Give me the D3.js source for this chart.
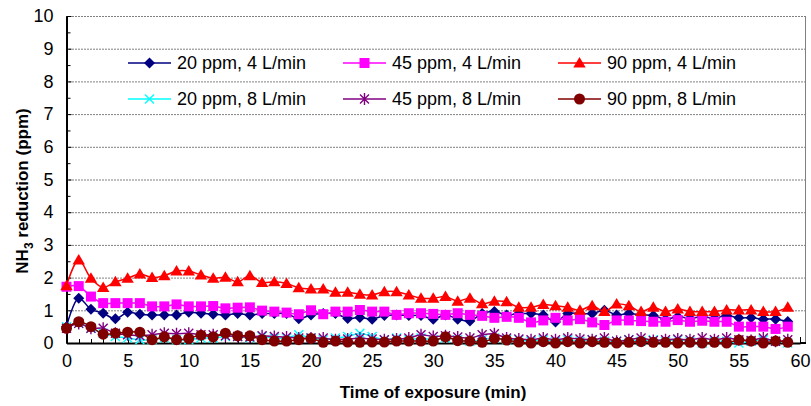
<!DOCTYPE html>
<html>
<head>
<meta charset="utf-8">
<script src="https://cdn.jsdelivr.net/npm/d3@7"></script>
<style>
  html, body { margin: 0; padding: 0; background: #fff; }
  svg { display: block; font-family: "Liberation Sans", Arial, Helvetica, sans-serif; }
</style>
</head>
<body>
<svg id="chart" width="811" height="406"></svg>
<script>
// Exposure time (min) for each reading
const times = [0, 1, 2, 3, 4, 5, 6, 7, 8, 9, 10, 11, 12, 13, 14, 15, 16, 17, 18, 19,
  20, 21, 22, 23, 24, 25, 26, 27, 28, 29, 30, 31, 32, 33, 34, 35, 36, 37, 38, 39,
  40, 41, 42, 43, 44, 45, 46, 47, 48, 49, 50, 51, 52, 53, 54, 55, 56, 57, 58, 59];

// NH3 reduction (ppm) per test condition
const ppm20_4 = [0.50, 1.37, 1.03, 0.91, 0.74, 0.94, 0.88, 0.86, 0.86, 0.86, 0.94, 0.91, 0.88, 0.86, 0.90, 0.86, 0.90, 0.90, 0.90, 0.74,
  0.86, 0.90, 0.90, 0.75, 0.78, 0.73, 0.84, 0.86, 0.84, 0.84, 0.73, 0.86, 0.73, 0.67, 0.90, 0.96, 0.86, 0.90, 0.90, 0.86,
  0.64, 0.90, 0.90, 0.90, 1.00, 0.86, 0.90, 0.86, 0.84, 0.73, 0.80, 0.76, 0.80, 0.76, 0.84, 0.77, 0.77, 0.73, 0.73, 0.66];
const ppm45_4 = [1.72, 1.74, 1.42, 1.22, 1.22, 1.22, 1.22, 1.12, 1.12, 1.18, 1.12, 1.12, 1.13, 1.06, 1.08, 1.09, 0.99, 0.96, 0.93, 0.88,
  1.00, 0.88, 0.96, 0.96, 1.01, 0.96, 0.96, 0.86, 0.91, 0.91, 0.89, 0.86, 0.91, 0.86, 0.83, 0.77, 0.80, 0.77, 0.63, 0.69,
  0.77, 0.69, 0.73, 0.63, 0.55, 0.69, 0.69, 0.67, 0.65, 0.65, 0.70, 0.65, 0.68, 0.65, 0.65, 0.50, 0.50, 0.50, 0.43, 0.50];
const ppm90_4 = [1.75, 2.54, 1.98, 1.70, 1.87, 1.98, 2.11, 2.00, 2.06, 2.20, 2.20, 2.08, 1.98, 2.01, 1.87, 2.06, 1.85, 1.87, 1.82, 1.69,
  1.65, 1.65, 1.55, 1.55, 1.49, 1.47, 1.57, 1.57, 1.47, 1.37, 1.37, 1.42, 1.28, 1.37, 1.20, 1.28, 1.26, 1.09, 1.09, 1.18,
  1.14, 1.09, 1.00, 1.14, 0.96, 1.19, 1.14, 0.96, 1.09, 0.96, 1.04, 0.96, 0.96, 0.96, 1.01, 1.01, 1.01, 0.96, 0.96, 1.09];
const ppm20_8 = [0.50, 0.60, 0.45, 0.30, 0.20, 0.15, 0.10, 0.10, 0.15, 0.10, 0.10, 0.15, 0.15, 0.20, 0.20, 0.15, 0.20, 0.15, 0.15, 0.25,
  0.15, 0.10, 0.15, 0.20, 0.30, 0.20, 0.10, 0.15, 0.10, 0.15, 0.10, 0.15, 0.10, 0.05, 0.10, 0.15, 0.10, 0.10, 0.05, 0.10,
  0.05, 0.10, 0.05, 0.10, 0.05, 0.05, 0.10, 0.05, 0.10, 0.05, 0.10, 0.05, 0.00, 0.05, 0.05, 0.00, 0.05, 0.10, 0.05, 0.00];
const ppm45_8 = [0.45, 0.60, 0.45, 0.45, 0.30, 0.25, 0.22, 0.25, 0.30, 0.28, 0.30, 0.25, 0.25, 0.22, 0.20, 0.18, 0.22, 0.20, 0.18, 0.15,
  0.15, 0.15, 0.10, 0.12, 0.15, 0.12, 0.10, 0.12, 0.15, 0.25, 0.20, 0.22, 0.18, 0.15, 0.25, 0.28, 0.15, 0.12, 0.10, 0.15,
  0.10, 0.15, 0.12, 0.10, 0.15, 0.05, 0.10, 0.15, 0.08, 0.10, 0.12, 0.10, 0.15, 0.10, 0.15, 0.10, 0.08, 0.15, 0.05, 0.10];
const ppm90_8 = [0.45, 0.65, 0.50, 0.27, 0.30, 0.33, 0.33, 0.10, 0.19, 0.10, 0.14, 0.24, 0.19, 0.30, 0.22, 0.22, 0.10, 0.06, 0.06, 0.10,
  0.14, 0.02, 0.06, 0.03, 0.02, 0.03, 0.03, 0.06, 0.06, 0.06, 0.06, 0.19, 0.07, 0.06, 0.02, 0.14, 0.09, 0.03, 0.00, 0.04,
  0.00, 0.04, 0.00, 0.04, 0.02, 0.00, 0.02, 0.04, 0.02, 0.02, 0.00, 0.02, 0.00, 0.02, 0.00, 0.09, 0.06, 0.00, 0.06, 0.02];

const seriesNames = ["20 ppm, 4 L/min", "45 ppm, 4 L/min", "90 ppm, 4 L/min",
                     "20 ppm, 8 L/min", "45 ppm, 8 L/min", "90 ppm, 8 L/min"];
const xTicks = [0, 5, 10, 15, 20, 25, 30, 35, 40, 45, 50, 55, 60];
const yTicks = [0, 1, 2, 3, 4, 5, 6, 7, 8, 9, 10];

// Visual style per series
const styles = [
  { color: "#000080", marker: "diamond" },
  { color: "#FF00FF", marker: "square" },
  { color: "#FF0000", marker: "triangle" },
  { color: "#00FFFF", marker: "cross" },
  { color: "#800080", marker: "asterisk" },
  { color: "#800000", marker: "circle" }
];
const seriesValues = [ppm20_4, ppm45_4, ppm90_4, ppm20_8, ppm45_8, ppm90_8];

const svg = d3.select("#chart");
// frameRight: outer edge of the plot box; the x scale ends a little inside it
const plot = { left: 66.5, right: 800, frameRight: 805, top: 16, bottom: 343 };

const x = d3.scaleLinear().domain([0, 60]).range([plot.left, plot.right]);
const y = d3.scaleLinear().domain([0, 10]).range([plot.bottom, plot.top]);

// Horizontal dotted grid
svg.append("g")
  .selectAll("line")
  .data(yTicks.filter(d => d > 0))
  .join("line")
  .attr("x1", plot.left).attr("x2", plot.frameRight)
  .attr("y1", d => y(d) + 0.5).attr("y2", d => y(d) + 0.5)
  .attr("stroke", "#000").attr("stroke-width", 1)
  .attr("stroke-dasharray", "1,2");

// Plot frame (right side)
svg.append("line")
  .attr("x1", plot.frameRight + 0.5).attr("x2", plot.frameRight + 0.5)
  .attr("y1", plot.top).attr("y2", plot.bottom)
  .attr("stroke", "#808080").attr("stroke-width", 1);

// Y axis
const yAxis = d3.axisLeft(y).tickValues(yTicks).tickSize(0).tickPadding(13).tickFormat(d3.format("d"));
const gy = svg.append("g").attr("transform", `translate(${plot.left},0)`).call(yAxis);
gy.select(".domain").attr("stroke", "#000").attr("stroke-width", 2);
gy.selectAll("text").attr("font-size", 18).attr("fill", "#000")
  .attr("font-family", "'Liberation Sans', Arial, sans-serif");

// inward major / minor y ticks
const yMinor = yTicks.slice(0, -1).map(d => d + 0.5);
svg.append("g").selectAll("line").data(yTicks).join("line")
  .attr("x1", plot.left).attr("x2", plot.left + 5)
  .attr("y1", d => y(d) + 0.5).attr("y2", d => y(d) + 0.5)
  .attr("stroke", "#000").attr("stroke-width", 1);
svg.append("g").selectAll("line").data(yMinor).join("line")
  .attr("x1", plot.left).attr("x2", plot.left + 4)
  .attr("y1", d => y(d) + 0.5).attr("y2", d => y(d) + 0.5)
  .attr("stroke", "#000").attr("stroke-width", 1);

// X axis
const xAxis = d3.axisBottom(x).tickValues(xTicks).tickSize(0).tickPadding(11).tickFormat(d3.format("d"));
const gx = svg.append("g").attr("transform", `translate(0,${plot.bottom})`).call(xAxis);
gx.select(".domain").attr("stroke", "#000").attr("stroke-width", 2);
// continue the baseline to the frame edge
gx.append("line").attr("x1", plot.right).attr("x2", plot.frameRight + 1)
  .attr("y1", 0).attr("y2", 0).attr("stroke", "#000").attr("stroke-width", 2);
gx.selectAll("text").attr("font-size", 18).attr("fill", "#000")
  .attr("font-family", "'Liberation Sans', Arial, sans-serif");

// inward x ticks, one per minute, longer every 5 min
const xMinor = times.slice(1).concat([60]);
svg.append("g").selectAll("line").data(xMinor).join("line")
  .attr("x1", d => Math.round(x(d)) + 0.5).attr("x2", d => Math.round(x(d)) + 0.5)
  .attr("y1", plot.bottom).attr("y2", d => plot.bottom - (d % 5 === 0 ? 6 : 4))
  .attr("stroke", "#000").attr("stroke-width", 1);

// Marker shapes
function markerPath(type) {
  switch (type) {
    case "diamond": return "M0,-5.5L5.5,0L0,5.5L-5.5,0Z";
    case "square": return "M-5,-5H5V5H-5Z";
    case "triangle": return "M0,-6L6.2,4.5H-6.2Z";
    case "circle": return d3.symbol(d3.symbolCircle, 95)();
    case "cross": return "M-4.5,-4.5L4.5,4.5M-4.5,4.5L4.5,-4.5";
    case "asterisk": return "M-4.5,-4.5L4.5,4.5M-4.5,4.5L4.5,-4.5M0,-6V6";
  }
}
function drawMarker(sel, st) {
  const stroked = st.marker === "cross" || st.marker === "asterisk";
  sel.attr("d", markerPath(st.marker))
    .attr("fill", stroked ? "none" : st.color)
    .attr("stroke", stroked ? st.color : "none")
    .attr("stroke-width", stroked ? 1.4 : 0);
}

const line = d3.line()
  .x((d, i) => x(times[i]))
  .y(d => y(d))
  .curve(d3.curveCatmullRom.alpha(0.5));

// Series lines and markers, drawn in legend order
seriesValues.forEach((vals, k) => {
  const st = styles[k];
  const g = svg.append("g");
  g.append("path").datum(vals)
    .attr("d", line)
    .attr("fill", "none")
    .attr("stroke", st.color)
    .attr("stroke-width", 1.5);
  g.selectAll("path.m").data(vals).join("path")
    .attr("class", "m")
    .attr("transform", (d, i) => `translate(${x(times[i])},${y(d)})`)
    .call(drawMarker, st);
});

// Legend: two rows of three entries
const legendCols = [128, 343, 558];
const legendRows = [63, 99];
seriesNames.forEach((name, k) => {
  const lx = legendCols[k % 3], ly = legendRows[Math.floor(k / 3)];
  const st = styles[k];
  const g = svg.append("g").attr("transform", `translate(${lx},${ly})`);
  g.append("line").attr("x1", 0).attr("x2", 43).attr("y1", 0).attr("y2", 0)
    .attr("stroke", st.color).attr("stroke-width", 1.5);
  g.append("path").attr("transform", "translate(21.5,0)").call(drawMarker, st);
  g.append("text").attr("x", 49).attr("y", 0).attr("dy", "0.35em")
    .attr("font-size", 18).attr("fill", "#000").text(name);
});

// Axis titles
svg.append("text")
  .attr("x", 433).attr("y", 398)
  .attr("text-anchor", "middle").attr("font-size", 17).attr("font-weight", "bold")
  .text("Time of exposure (min)");

const yt = svg.append("text")
  .attr("transform", "translate(28,191) rotate(-90)")
  .attr("text-anchor", "middle").attr("font-size", 17).attr("font-weight", "bold");
yt.append("tspan").text("NH");
yt.append("tspan").attr("font-size", 12).attr("dy", 5).text("3");
yt.append("tspan").attr("dy", -5).text(" reduction (ppm)");
</script>
</body>
</html>
